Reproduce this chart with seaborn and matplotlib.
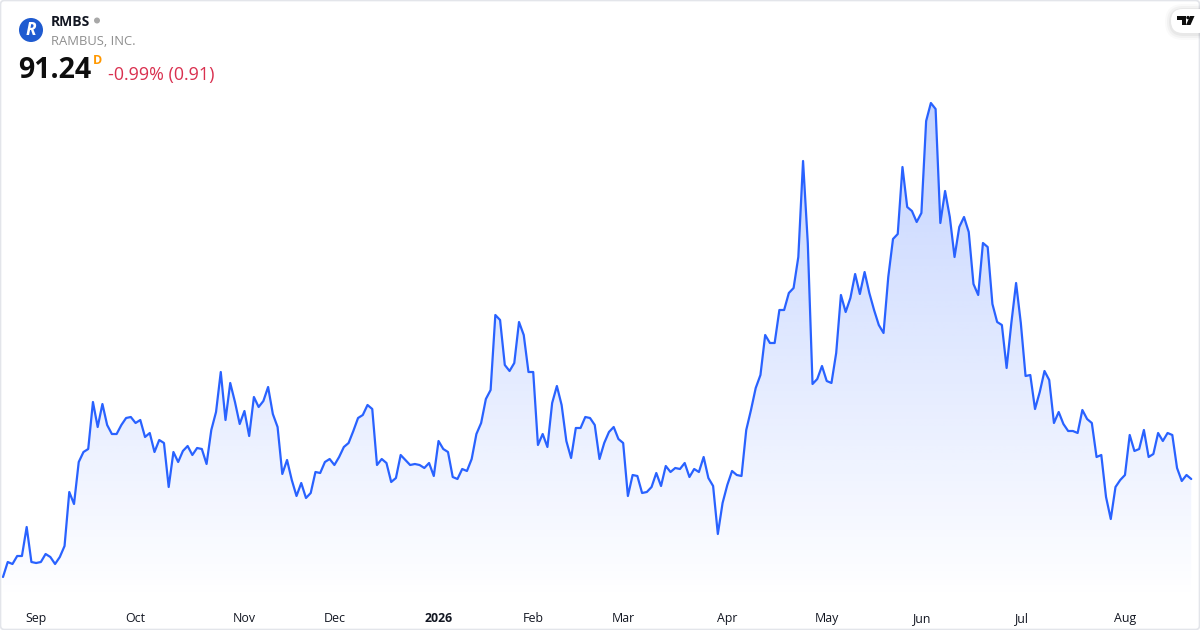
#%% RMBS daily close, tradingview style area chart
import numpy as np
import matplotlib
matplotlib.use('Agg')
import matplotlib.pyplot as plt
from matplotlib.patches import Circle, FancyBboxPatch, Polygon
import seaborn as sns

closes = [
    52.0, 58.0, 57.2, 60.4, 60.4, 72.0, 58.0, 57.6, 58.0, 61.2, 60.0, 57.2, 60.0, 64.4, 86.0, 81.2,
    98.0, 102.0, 103.2, 122.0, 112.0, 121.2, 112.8, 109.2, 109.2, 112.8, 115.6, 116.0, 113.6, 114.8,
    108.0, 109.6, 102.0, 106.8, 105.6, 88.0, 102.0, 98.0, 102.4, 104.4, 100.8, 103.6, 103.2, 97.2,
    110.8, 118.0, 134.0, 114.8, 129.6, 122.0, 113.2, 118.4, 108.4, 124.0, 120.0, 122.4, 128.0, 117.2,
    112.0, 93.2, 98.8, 90.8, 84.4, 89.6, 83.6, 85.6, 94.0, 93.6, 98.0, 99.2, 96.8, 100.0, 104.0,
    105.6, 110.4, 115.6, 116.8, 120.8, 119.2, 96.8, 99.2, 97.6, 90.0, 91.6, 100.8, 98.8, 96.8, 97.2,
    96.8, 95.6, 97.6, 92.4, 106.4, 103.2, 102.0, 92.0, 91.2, 95.2, 94.4, 99.2, 109.2, 113.6, 123.2,
    126.8, 156.8, 154.8, 136.8, 134.4, 137.6, 154.0, 148.8, 134.0, 134.0, 104.8, 109.2, 104.0, 121.6,
    128.4, 120.8, 106.4, 99.6, 111.6, 111.6, 116.0, 115.6, 112.8, 99.2, 105.6, 110.0, 112.0, 107.2,
    105.6, 84.4, 92.8, 92.4, 85.6, 86.0, 88.0, 93.6, 88.4, 96.4, 94.0, 95.6, 95.2, 97.6, 92.0, 95.2,
    94.0, 100.0, 91.6, 88.4, 69.2, 81.6, 88.8, 94.4, 92.8, 92.4, 110.8, 118.8, 127.6, 132.8, 148.8,
    145.6, 145.6, 158.8, 158.8, 165.6, 167.6, 180.0, 218.4, 185.6, 129.2, 131.2, 136.4, 130.4, 129.6,
    141.6, 164.8, 158.0, 163.6, 173.2, 165.2, 174.0, 165.6, 158.8, 152.8, 149.6, 172.0, 187.2, 189.2,
    216.0, 200.0, 198.4, 194.0, 197.6, 234.4, 241.6, 239.2, 193.6, 206.4, 196.0, 180.0, 192.0, 196.0,
    190.0, 169.2, 164.8, 185.6, 184.0, 161.2, 154.0, 152.8, 135.6, 153.6, 169.6, 153.6, 132.4, 132.8,
    119.2, 126.0, 134.4, 130.8, 113.6, 118.0, 113.2, 110.4, 110.4, 109.6, 118.8, 115.2, 113.6, 100.0,
    100.8, 84.0, 75.2, 88.0, 90.8, 92.8, 108.8, 102.4, 103.2, 110.8, 100.0, 101.2, 109.6, 106.4,
    109.6, 108.8, 95.6, 90.4, 92.8, 91.2,
]
sessions = list(range(len(closes)))

tick_sessions = [7, 28, 51, 70, 92, 112, 131, 153, 174, 194, 215, 237]
tick_labels = ['Sep', 'Oct', 'Nov', 'Dec', '2026', 'Feb', 'Mar', 'Apr', 'May', 'Jun', 'Jul', 'Aug']

symbol = 'RMBS'
company = 'RAMBUS, INC.'
last_price = '91.24'
change = '-0.99% (0.91)'

LINE = '#2962ff'

sns.set_theme(style='white')
plt.rcParams['font.family'] = ['Open Sans', 'DejaVu Sans']

fig = plt.figure(figsize=(12, 6.3), dpi=100, facecolor='white')
ax = fig.add_axes([0, 30 / 630, 1, 600 / 630])
ax.patch.set_alpha(0)

sns.lineplot(x=sessions, y=closes, color=LINE, linewidth=1.6, ax=ax, zorder=3)

ax.set_xlim(-0.634, 252.85)
ax.set_ylim(42.8, 282.8)

# gradient under the line, clipped to the area shape
area = ax.fill_between(sessions, closes, 42.8, color='none')
shades = np.zeros((256, 2, 4))
shades[..., :3] = matplotlib.colors.to_rgb(LINE)
shades[..., 3] = np.linspace(0.28, 0.0, 256)[:, None]
grad = ax.imshow(shades, extent=(0, len(closes) - 1, 42.8, max(closes)), aspect='auto',
                 origin='upper', zorder=2, interpolation='bilinear')
grad.set_clip_path(area.get_paths()[0], transform=ax.transData)
ax.set_xlim(-0.634, 252.85)
ax.set_ylim(42.8, 282.8)

sns.despine(ax=ax, left=True, bottom=True)
ax.set_yticks([])
ax.set_xlabel('')
ax.set_ylabel('')
ax.set_xticks(tick_sessions)
ax.set_xticklabels(tick_labels, fontsize=8.9, color='#131722')
ax.tick_params(axis='x', length=0, pad=8.6)
ax.get_xticklabels()[4].set_fontweight('bold')
ax.grid(False)

# header and frame, laid out in pixels
top = fig.add_axes([0, 0, 1, 1], zorder=5)
top.set_xlim(0, 1200)
top.set_ylim(630, 0)
top.axis('off')

top.add_patch(FancyBboxPatch((0.5, 0.5), 1199, 629, boxstyle='round,pad=0,rounding_size=4',
                             fc='none', ec='#e3e5ea', lw=1.2))

top.add_patch(Circle((31, 30), 12, fc='#1f5bd0', ec='none'))
top.text(30.5, 30, 'R', color='white', fontsize=12.5, fontweight='bold', style='italic',
         ha='center', va='center')
top.text(51, 21.5, symbol, color='#131722', fontsize=10, fontweight='bold', va='center')
top.add_patch(Circle((97, 20.5), 3, fc='#a8a8a8', ec='none'))
top.text(51, 41.5, company, color='#8f8f8f', fontsize=9.4, va='center')
top.text(18.5, 71, last_price, color='#0e0e0e', fontsize=20.6, fontweight='bold', va='center')
top.text(93, 61, 'D', color='#ff9800', fontsize=9, fontweight='bold', va='center')
top.text(108, 75, change, color='#d9304f', fontsize=12.9, va='center')

# tradingview badge
for grow, alpha in [(6, 0.02), (4, 0.03), (2, 0.04)]:
    top.add_patch(FancyBboxPatch((1171 - grow, 9 - grow + 1), 40 + grow, 24 + 2 * grow,
                                 boxstyle='round,pad=0,rounding_size=%g' % (12 + grow),
                                 fc='black', ec='none', alpha=alpha))
top.add_patch(FancyBboxPatch((1171, 9), 40, 24, boxstyle='round,pad=0,rounding_size=12',
                             fc='white', ec='none'))
top.add_patch(Polygon([(1177, 16), (1186, 16), (1186, 25), (1181.5, 25), (1181.5, 19.5), (1177, 19.5)],
                      fc='#0e0e0e', ec='none'))
top.add_patch(Circle((1188, 17.6), 1.7, fc='#0e0e0e', ec='none'))
top.add_patch(Polygon([(1190, 16), (1194.5, 16), (1190.5, 25), (1186, 25)], fc='#0e0e0e', ec='none'))

fig.savefig('out.png', dpi=100)
